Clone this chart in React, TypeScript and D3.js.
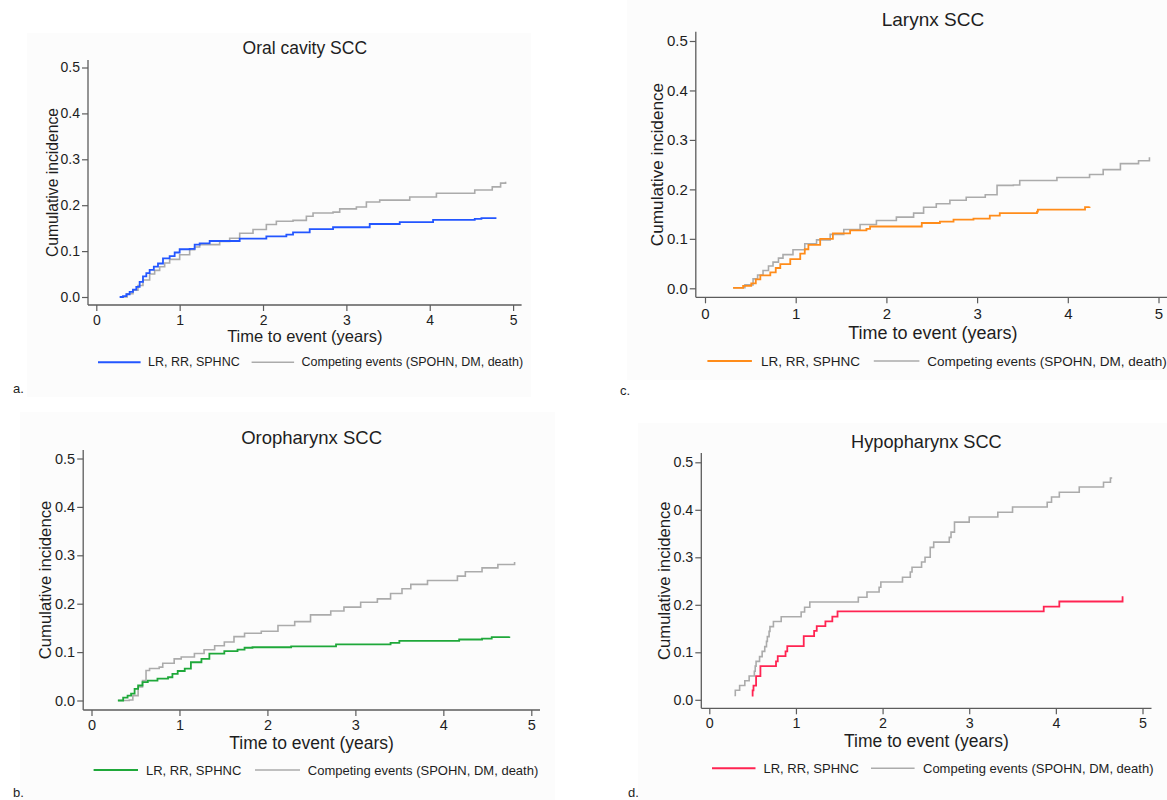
import React, { useEffect, useRef } from 'react';
import * as d3 from 'd3';

// tick values / labels shared by all four panels
const xTicks = [0, 1, 2, 3, 4, 5];
const yTicks = [0, 0.1, 0.2, 0.3, 0.4, 0.5];
const legendLabels = ['LR, RR, SPHNC', 'Competing events (SPOHN, DM, death)'];
const xTitle = 'Time to event (years)';
const yTitle = 'Cumulative incidence';

// cumulative incidence step curves, [years, incidence]
const oralLR = [
  [0.28, 0.0], [0.32, 0.002], [0.36, 0.006], [0.40, 0.011], [0.44, 0.016], [0.48, 0.022],
  [0.52, 0.033], [0.56, 0.045], [0.60, 0.052], [0.64, 0.059], [0.69, 0.066], [0.74, 0.073],
  [0.80, 0.084], [0.88, 0.089], [0.94, 0.097], [1.0, 0.104], [1.12, 0.105], [1.18, 0.114],
  [1.24, 0.117], [1.36, 0.122], [1.72, 0.127], [2.04, 0.132], [2.28, 0.136], [2.36, 0.141],
  [2.56, 0.148], [2.84, 0.152], [3.28, 0.159], [3.64, 0.163], [4.04, 0.168], [4.54, 0.170],
  [4.62, 0.172], [4.80, 0.172],
];
const oralCE = [
  [0.30, 0.0], [0.37, 0.007], [0.44, 0.015], [0.50, 0.025], [0.56, 0.037], [0.64, 0.050],
  [0.70, 0.058], [0.76, 0.066], [0.82, 0.074], [0.88, 0.082], [1.0, 0.092], [1.12, 0.103],
  [1.18, 0.109], [1.24, 0.114], [1.48, 0.121], [1.60, 0.128], [1.72, 0.139], [1.88, 0.147],
  [2.04, 0.158], [2.16, 0.165], [2.36, 0.167], [2.52, 0.176], [2.60, 0.183], [2.84, 0.185],
  [2.92, 0.192], [3.12, 0.196], [3.24, 0.207], [3.40, 0.211], [3.76, 0.218], [4.08, 0.226],
  [4.54, 0.233], [4.75, 0.240], [4.85, 0.248], [4.91, 0.251],
];
const larynxLR = [
  [0.31, 0.001], [0.42, 0.005], [0.51, 0.010], [0.56, 0.018], [0.61, 0.026], [0.72, 0.032],
  [0.78, 0.041], [0.83, 0.049], [0.94, 0.059], [1.05, 0.070], [1.10, 0.079], [1.14, 0.088],
  [1.27, 0.100], [1.41, 0.111], [1.60, 0.117], [1.78, 0.120], [1.82, 0.125], [2.39, 0.132],
  [2.59, 0.135], [2.74, 0.139], [2.96, 0.141], [3.14, 0.147], [3.25, 0.152], [3.66, 0.155],
  [3.67, 0.159], [4.19, 0.164], [4.24, 0.165],
];
const larynxCE = [
  [0.31, 0.001], [0.44, 0.007], [0.53, 0.019], [0.58, 0.027], [0.64, 0.036], [0.70, 0.045],
  [0.75, 0.053], [0.81, 0.061], [0.86, 0.068], [0.97, 0.078], [1.10, 0.090], [1.23, 0.098],
  [1.38, 0.109], [1.53, 0.119], [1.71, 0.129], [1.89, 0.137], [2.11, 0.144], [2.30, 0.152],
  [2.41, 0.164], [2.55, 0.171], [2.70, 0.178], [2.88, 0.184], [3.09, 0.189], [3.22, 0.208],
  [3.40, 0.209], [3.47, 0.218], [3.88, 0.224], [4.24, 0.230], [4.39, 0.240], [4.58, 0.252],
  [4.78, 0.258], [4.90, 0.265],
];
const oroLR = [
  [0.30, 0.0], [0.36, 0.006], [0.41, 0.010], [0.45, 0.014], [0.49, 0.024], [0.53, 0.031],
  [0.58, 0.038], [0.64, 0.041], [0.75, 0.045], [0.87, 0.048], [0.92, 0.055], [0.98, 0.061],
  [1.06, 0.066], [1.13, 0.079], [1.25, 0.086], [1.34, 0.097], [1.51, 0.102], [1.66, 0.105],
  [1.74, 0.109], [1.83, 0.110], [2.27, 0.112], [2.78, 0.116], [3.40, 0.119], [3.50, 0.123],
  [4.18, 0.126], [4.44, 0.128], [4.55, 0.131], [4.75, 0.132],
];
const oroCE = [
  [0.30, 0.0], [0.43, 0.001], [0.47, 0.010], [0.53, 0.028], [0.58, 0.041], [0.62, 0.062],
  [0.66, 0.066], [0.77, 0.069], [0.81, 0.077], [0.94, 0.086], [1.02, 0.090], [1.17, 0.097],
  [1.28, 0.105], [1.40, 0.113], [1.51, 0.121], [1.62, 0.132], [1.74, 0.139], [1.93, 0.143],
  [2.12, 0.155], [2.31, 0.163], [2.49, 0.177], [2.72, 0.185], [2.87, 0.193], [3.06, 0.203],
  [3.25, 0.210], [3.40, 0.221], [3.53, 0.231], [3.63, 0.240], [3.82, 0.248], [4.16, 0.257],
  [4.25, 0.266], [4.44, 0.274], [4.62, 0.281], [4.81, 0.286],
];
const hypoLR = [
  [0.49, 0.009], [0.50, 0.020], [0.51, 0.030], [0.54, 0.050], [0.59, 0.071], [0.77, 0.081],
  [0.79, 0.092], [0.88, 0.102], [0.90, 0.113], [1.09, 0.134], [1.21, 0.145], [1.24, 0.155],
  [1.34, 0.165], [1.42, 0.175], [1.48, 0.186], [3.86, 0.196], [4.04, 0.207], [4.77, 0.216],
  [4.78, 0.216],
];
const hypoCE = [
  [0.29, 0.009], [0.30, 0.020], [0.35, 0.030], [0.41, 0.040], [0.46, 0.050], [0.52, 0.060],
  [0.53, 0.071], [0.54, 0.081], [0.58, 0.091], [0.61, 0.102], [0.64, 0.112], [0.66, 0.123],
  [0.67, 0.133], [0.69, 0.144], [0.70, 0.154], [0.74, 0.165], [0.83, 0.175], [1.06, 0.185],
  [1.10, 0.195], [1.16, 0.206], [1.72, 0.216], [1.82, 0.227], [1.96, 0.237], [1.98, 0.248],
  [2.23, 0.258], [2.32, 0.269], [2.34, 0.279], [2.45, 0.290], [2.49, 0.300], [2.55, 0.321],
  [2.59, 0.332], [2.77, 0.342], [2.79, 0.353], [2.83, 0.374], [3.00, 0.385], [3.33, 0.395],
  [3.50, 0.406], [3.90, 0.416], [3.95, 0.427], [4.04, 0.437], [4.27, 0.448], [4.55, 0.458],
  [4.63, 0.467], [4.65, 0.467],
];

const GREY = '#ababab';
const AXIS = '#5c5c5c';
const TEXT = '#1e1e1e';

// geometry of each panel (pixel positions)
const PANELS = [
  {
    title: 'Oral cavity SCC', letter: 'a.', color: '#2356ff', main: oralLR, comp: oralCE,
    x0: 96.3, x5: 513.1, y0: 297, y5: 67.5, axisX: 88, axisY: 305, axisTop: 60, axisRight: 521.6,
    titleY: 48.3, xTitleY: 336, xLabelY: 320, yTitleX: 52.9, legendY: 362.3,
    legend: [98, 140.6, 148, 251.6, 294.1, 301.5], letterX: 13, letterY: 388,
    bg: [27, 33, 504, 364], fs: { title: 17.5, axis: 16.5, tick: 14, legend: 12.5 },
  },
  {
    title: 'Larynx SCC', letter: 'c.', color: '#ff8c1a', main: larynxLR, comp: larynxCE,
    x0: 705, x5: 1158.5, y0: 288.3, y5: 41, axisX: 695.8, axisY: 297.3, axisTop: 31.7, axisRight: 1170,
    titleY: 19, xTitleY: 332.7, xLabelY: 314, yTitleX: 656.8, legendY: 361,
    legend: [707.4, 751.9, 761, 873.8, 919.4, 927.3], letterX: 620, letterY: 390,
    bg: [627, 0, 540, 380], fs: { title: 19, axis: 18, tick: 15, legend: 13.5 },
  },
  {
    title: 'Oropharynx SCC', letter: 'b.', color: '#1fa83a', main: oroLR, comp: oroCE,
    x0: 91.5, x5: 531.3, y0: 700.5, y5: 458.5, axisX: 83.2, axisY: 710, axisTop: 450, axisRight: 540,
    titleY: 437.7, xTitleY: 742.7, xLabelY: 725, yTitleX: 45.5, legendY: 770,
    legend: [93.6, 138, 146, 255, 300, 307.8], letterX: 13, letterY: 792,
    bg: [20, 412, 535, 388], fs: { title: 18.5, axis: 17.5, tick: 14.5, legend: 13 },
  },
  {
    title: 'Hypopharynx SCC', letter: 'd.', color: '#ff2452', main: hypoLR, comp: hypoCE,
    x0: 709.3, x5: 1142.5, y0: 699.8, y5: 462.3, axisX: 701.3, axisY: 708.3, axisTop: 453, axisRight: 1151.5,
    titleY: 441.7, xTitleY: 741, xLabelY: 723.3, yTitleX: 664, legendY: 768.3,
    legend: [712, 755.5, 763.5, 871, 914.6, 923], letterX: 628, letterY: 792,
    bg: [638, 423, 529, 377], fs: { title: 18.2, axis: 17.5, tick: 14.3, legend: 13 },
  },
];

const FONT = '"Liberation Sans", Arial, sans-serif';

const App = () => {
  const svgRef = useRef<SVGSVGElement>(null);

  useEffect(() => {
    if (!svgRef.current) return;
    const svg = d3.select(svgRef.current);
    svg.selectAll('*').remove();

    svg.append('rect').attr('width', 1167).attr('height', 800).attr('fill', '#ffffff');

    PANELS.forEach(p => {
      const g = svg.append('g').style('font-family', FONT);

      // faint graph region
      g.append('rect')
        .attr('x', p.bg[0]).attr('y', p.bg[1])
        .attr('width', p.bg[2]).attr('height', p.bg[3])
        .attr('fill', '#fcfcfc');

      const x = d3.scaleLinear().domain([0, 5]).range([p.x0, p.x5]);
      const y = d3.scaleLinear().domain([0, 0.5]).range([p.y0, p.y5]);
      const midX = (p.axisX + p.axisRight) / 2;

      // title
      g.append('text')
        .attr('x', midX).attr('y', p.titleY)
        .attr('text-anchor', 'middle').attr('dominant-baseline', 'central')
        .style('font-size', `${p.fs.title}px`).attr('fill', TEXT)
        .text(p.title);

      // y axis
      const yAxis = g.append('g')
        .attr('transform', `translate(${p.axisX},0)`)
        .call(d3.axisLeft(y).tickValues(yTicks).tickFormat(d3.format('.1f')).tickSize(6).tickPadding(2));
      yAxis.select('.domain').remove();
      yAxis.selectAll('line').attr('stroke', AXIS).attr('stroke-width', 1.2);
      yAxis.selectAll('text').style('font-size', `${p.fs.tick}px`).style('font-family', FONT).attr('fill', TEXT);

      // x axis
      const pad = p.xLabelY - p.axisY - 6 - 0.35 * p.fs.tick;
      const xAxis = g.append('g')
        .attr('transform', `translate(0,${p.axisY})`)
        .call(d3.axisBottom(x).tickValues(xTicks).tickFormat(d3.format('d')).tickSize(6).tickPadding(pad));
      xAxis.select('.domain').remove();
      xAxis.selectAll('line').attr('stroke', AXIS).attr('stroke-width', 1.2);
      xAxis.selectAll('text').style('font-size', `${p.fs.tick}px`).style('font-family', FONT).attr('fill', TEXT);

      g.append('line')
        .attr('x1', p.axisX).attr('x2', p.axisX)
        .attr('y1', p.axisTop).attr('y2', p.axisY)
        .attr('stroke', AXIS).attr('stroke-width', 1.3);
      g.append('line')
        .attr('x1', p.axisX).attr('x2', p.axisRight)
        .attr('y1', p.axisY).attr('y2', p.axisY)
        .attr('stroke', AXIS).attr('stroke-width', 1.3);

      // axis titles
      g.append('text')
        .attr('x', midX).attr('y', p.xTitleY)
        .attr('text-anchor', 'middle').attr('dominant-baseline', 'central')
        .style('font-size', `${p.fs.axis}px`).attr('fill', TEXT)
        .text(xTitle);
      g.append('text')
        .attr('transform', `translate(${p.yTitleX},${(p.axisTop + p.axisY) / 2}) rotate(-90)`)
        .attr('text-anchor', 'middle').attr('dominant-baseline', 'central')
        .style('font-size', `${p.fs.axis - 0.8}px`).attr('fill', TEXT)
        .text(yTitle);

      // curves
      const line = d3.line<number[]>()
        .x(d => x(d[0]))
        .y(d => y(d[1]))
        .curve(d3.curveStepAfter);

      g.append('path').datum(p.comp)
        .attr('fill', 'none').attr('stroke', GREY).attr('stroke-width', 1.6)
        .attr('d', line);
      g.append('path').datum(p.main)
        .attr('fill', 'none').attr('stroke', p.color).attr('stroke-width', 1.8)
        .attr('d', line);

      // legend
      const [l1a, l1b, t1, l2a, l2b, t2] = p.legend;
      g.append('line').attr('x1', l1a).attr('x2', l1b).attr('y1', p.legendY).attr('y2', p.legendY)
        .attr('stroke', p.color).attr('stroke-width', 2);
      g.append('text').attr('x', t1).attr('y', p.legendY).attr('dominant-baseline', 'central')
        .style('font-size', `${p.fs.legend}px`).attr('fill', TEXT).text(legendLabels[0]);
      g.append('line').attr('x1', l2a).attr('x2', l2b).attr('y1', p.legendY).attr('y2', p.legendY)
        .attr('stroke', GREY).attr('stroke-width', 1.6);
      g.append('text').attr('x', t2).attr('y', p.legendY).attr('dominant-baseline', 'central')
        .style('font-size', `${p.fs.legend}px`).attr('fill', TEXT).text(legendLabels[1]);

      // panel letter
      g.append('text').attr('x', p.letterX).attr('y', p.letterY).attr('dominant-baseline', 'central')
        .style('font-size', '13px').attr('fill', TEXT).text(p.letter);
    });
  }, []);

  return (
    <div style={{ position: 'absolute', left: 0, top: 0 }}>
      <svg ref={svgRef} width={1167} height={800}></svg>
    </div>
  );
};

export default App;
